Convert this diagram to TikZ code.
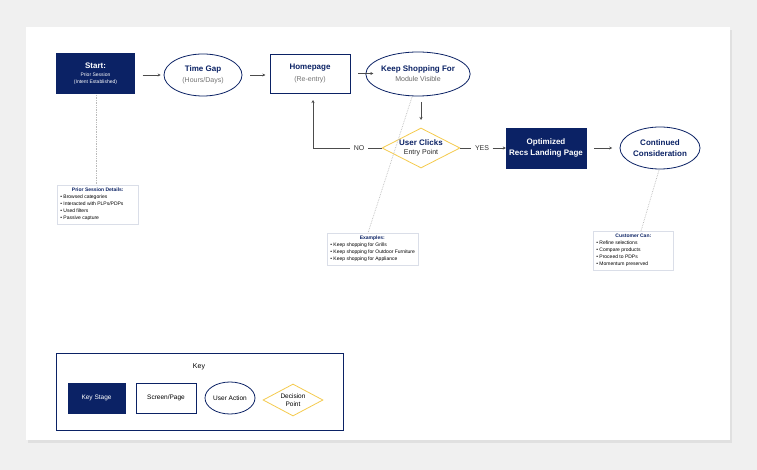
\documentclass[tikz,border=0pt]{standalone}
\usepackage{fontspec}
\setmainfont{Liberation Sans}
\usetikzlibrary{shapes.geometric,arrows.meta}
\definecolor{navy}{HTML}{0B2265}
\definecolor{gold}{HTML}{F5CB4E}
\definecolor{dot}{HTML}{BBBBBB}
\begin{document}
\begin{tikzpicture}[x=1pt,y=-1pt,
  stage/.style={rectangle,fill=navy,draw=navy,minimum width=78pt,minimum height=40pt,text=white,align=center,inner sep=1pt,font=\fontsize{6}{8}\selectfont},
  screen/.style={rectangle,fill=white,draw=navy,line width=0.8pt,minimum width=80pt,minimum height=39pt,align=center,inner sep=1pt,font=\fontsize{6}{8}\selectfont},
  act/.style={ellipse,fill=white,draw=navy,line width=0.8pt,minimum width=78pt,minimum height=42pt,align=center,inner sep=0pt,font=\fontsize{6}{8}\selectfont},
  dec/.style={diamond,fill=white,draw=gold,line width=0.8pt,minimum width=78pt,minimum height=40pt,aspect=2,align=center,inner sep=0pt,font=\fontsize{6}{8}\selectfont},
  note/.style={rectangle,fill=white,draw=navy!15,line width=0.6pt,align=left,font=\fontsize{5}{7}\selectfont,anchor=north west,inner sep=3pt},
  arr/.style={-{Stealth[length=3pt,width=3pt]},draw=black!70,line width=0.5pt},
  dots/.style={dot,densely dotted,line width=0.7pt},
  lbl/.style={font=\fontsize{7}{8}\selectfont,text=black!80}]
\useasboundingbox (0,0) rectangle (757,470);
\fill[black!6] (0,0) rectangle (757,470);
\fill[black!12] (28,30) rectangle (732,443);
\fill[white] (26,27) rectangle (730,440);
\newcommand{\ti}[1]{{\fontsize{8}{9}\selectfont\bfseries #1}}
\newcommand{\su}[1]{{\fontsize{7}{9}\selectfont #1}}
\node[stage] (start) at (95.5,73.5) {\ti{Start:}\\[0.5pt]{\fontsize{5}{6}\selectfont Prior Session}\\[-1pt]{\fontsize{5}{6}\selectfont (Intent Established)}};
\node[act] (gap) at (203,75) {\textcolor{navy}{\ti{Time Gap}}\\[3.5pt]\textcolor{black!55}{\su{(Hours/Days)}}};
\node[screen] (home) at (310,73.5) {\textcolor{navy}{\ti{Homepage}}\\[3.5pt]\textcolor{black!55}{\su{(Re-entry)}}};
\node[act,minimum width=80pt,minimum height=44pt] (keep) at (418,74) {\textcolor{navy}{\ti{Keep Shopping For}}\\[2pt]\textcolor{black!60}{\su{Module Visible}}};
\node[dec] (click) at (421,148) {\textcolor{navy}{\ti{User Clicks}}\\[1.5pt]\textcolor{black!85}{\su{Entry Point}}};
\node[stage,minimum width=80pt] (recs) at (546,148) {\ti{Optimized}\\[3pt]\ti{Recs Landing Page}};
\node[act,minimum width=80pt] (cont) at (660,148) {\textcolor{navy}{\ti{Continued}}\\[3pt]\textcolor{navy}{\ti{Consideration}}};

\node[note,minimum width=81pt] (prior) at (57,185) {\makebox[75pt]{\textcolor{navy}{\bfseries Prior Session Details:}}\\
• Browsed categories\\• Interacted with PLPs/PDPs\\• Used filters\\• Passive capture};
\node[note,minimum width=90pt] (ex) at (327,233) {\makebox[84pt]{\textcolor{navy}{\bfseries Examples:}}\\
• Keep shopping for Grills\\• Keep shopping for Outdoor Furniture\\• Keep shopping for Appliance};
\node[note,minimum width=80pt] (cust) at (593,231) {\makebox[74pt]{\textcolor{navy}{\bfseries Customer Can:}}\\
• Refine selections\\• Compare products\\• Proceed to PDPs\\• Momentum preserved};

\draw[arr] (start.east) ++(8,1.5) -- ++(18,0);
\draw[arr] (gap.east) ++(8,0) -- ++(15,0);
\draw[arr] (home.east) ++(8,0) -- ++(15,0);
\draw[arr] (421,102) -- (421,120);
\node[lbl] (no) at (359,148) {NO};
\node[lbl] (yes) at (482,148) {YES};
\draw[draw=black!70,line width=0.5pt] (click.west) -- (no.east);
\draw[arr] (no.west) -- (313,148) -- (313,100);
\draw[draw=black!70,line width=0.5pt] (click.east) -- (yes.west);
\draw[arr] (yes.east) -- (recs.west);
\draw[arr] (recs.east) ++(8,0) -- ++(18,0);

\draw[dots] (96,95) -- (prior.north -| 96,0);
\draw[dots] (412,97) -- (368,233);
\draw[dots] (659,170) -- (641,231);

\node[rectangle,draw=navy,line width=0.8pt,minimum width=287pt,minimum height=77pt,anchor=north west] (key) at (56,353) {};
\node[font=\fontsize{7}{8}\selectfont] (keyt) at (199,367) {Key};
\node[stage,minimum width=57pt,minimum height=30pt,font=\fontsize{6.5}{8}\selectfont] (k1) at (96.5,398) {Key Stage};
\node[screen,minimum width=60pt,minimum height=30pt,font=\fontsize{6.5}{8}\selectfont] (k2) at (166,398) {Screen/Page};
\node[act,minimum width=50pt,minimum height=32pt,font=\fontsize{6.5}{8}\selectfont] (k3) at (230,398) {User Action};
\node[dec,minimum width=60pt,minimum height=32pt,font=\fontsize{6.5}{8}\selectfont] (k4) at (293,400) {Decision\\Point};
\end{tikzpicture}
\end{document}
